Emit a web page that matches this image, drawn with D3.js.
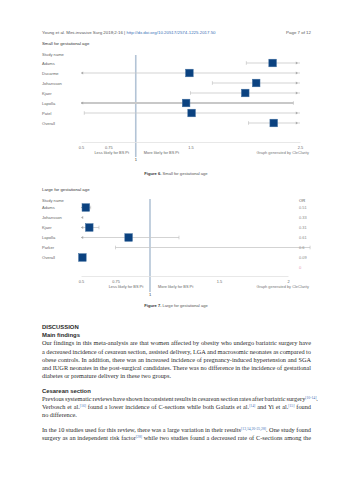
<!DOCTYPE html>
<html>
<head>
<meta charset="utf-8">
<script src="https://cdn.jsdelivr.net/npm/d3@7"></script>
<style>
  body { margin: 0; background: #fff; }
  text { font-family: "Liberation Sans", Arial, sans-serif; }
  .body { font-family: "Liberation Serif", "Times New Roman", serif; font-size: 6.3px; fill: #2a2a2a; }
  .sup { fill: #3a6fb5; }
</style>
</head>
<body>
<div id="container"></div>
<script>
/* CONSTANTS AND GLOBALS */
const width = 353;
const height = 480;

/* DATA */
// figure 6 - small for gestational age
const sgaStudies = ["Adams", "Ducarme", "Johansson", "Kjaer", "Lapolla", "Patel", "Overall"];
const sgaOR = [2.25, 1.49, 2.10, 2.0, 1.46, 1.51, 2.26];
const sgaLower = [2.01, 0.3, 1.70, 1.50, 0.3, 0.53, 2.03];
const sgaUpper = [3.5, 3.5, 3.5, 3.5, 2.44, 3.5, 3.5];
const sgaTicks = [0.5, 0.75, 1.5, 2.5];

// figure 7 - large for gestational age
const lgaStudies = ["Adams", "Johansson", "Kjaer", "Lapolla", "Parker", "Overall"];
const lgaOR = [0.535, 0.33, 0.56, 0.845, null, 0.51];
const lgaLower = [0.3, 0.2, 0.3, 0.3, 0.75, 0.49];
const lgaUpper = [0.57, 0.45, 0.63, 1.21, 2.16, 0.53];
const lgaLabels = ["0.51", "0.33", "0.31", "0.61", "0.6", "0.09"];
const lgaTicks = [0.5, 0.75, 1.5, 2];

const svg = d3.select("#container")
  .append("svg")
  .attr("width", width)
  .attr("height", height);

svg.append("rect").attr("width", width).attr("height", height).attr("fill", "#fff");

/* PAGE HEADER */
const head = svg.append("text").attr("x", 42).attr("y", 33.5)
  .attr("font-size", 4.4).attr("fill", "#555");
head.append("tspan").text("Young et al. Mini-invasive Surg 2018;2:16  |  ");
head.append("tspan").attr("fill", "#3a6fb5").text("http://dx.doi.org/10.20517/2574-1225.2017.50");
svg.append("text").attr("x", 311).attr("y", 33.5).attr("text-anchor", "end")
  .attr("font-size", 4.4).attr("fill", "#555").text("Page 7 of 12");

/* FOREST PLOT */
function forest(cfg) {
  const g = svg.append("g");
  const x = d3.scaleLinear().domain(cfg.domain).range(cfg.range);
  const y = d3.scalePoint().domain(cfg.studies).range(cfg.rows);
  const lo = cfg.domain[0], hi = cfg.domain[1];

  g.append("text").attr("x", 42).attr("y", cfg.titleY)
    .attr("font-size", 4.3).attr("fill", "#333").text(cfg.title);
  g.append("text").attr("x", 42).attr("y", cfg.titleY + 10.5)
    .attr("font-size", 4.1).attr("fill", "#666").text("Study name");

  // reference line at 1
  g.append("line")
    .attr("x1", x(1)).attr("x2", x(1))
    .attr("y1", cfg.refTop).attr("y2", cfg.refBottom)
    .attr("stroke", "#b3c4d6").attr("stroke-width", 1.6);
  g.append("text").attr("x", x(1)).attr("y", cfg.refBottom + 4)
    .attr("text-anchor", "middle").attr("font-size", 4).attr("fill", "#333").text("1");

  // axis
  const axis = g.append("g")
    .attr("transform", "translate(0," + cfg.axisY + ")")
    .call(d3.axisBottom(x).tickValues(cfg.ticks).tickSize(0).tickPadding(4)
      .tickFormat(d3.format("")));
  axis.select(".domain").attr("stroke", "#e2e2e2").attr("stroke-width", 0.8);
  axis.selectAll("text").attr("font-size", 3.9).attr("fill", "#666")
    .attr("font-family", "Liberation Sans, Arial, sans-serif");

  g.append("text").attr("x", x(1) - 24).attr("y", cfg.axisY + 12)
    .attr("text-anchor", "middle").attr("font-size", 3.9).attr("fill", "#666").text("Less likely for BS Pt");
  g.append("text").attr("x", x(1) + 8).attr("y", cfg.axisY + 12)
    .attr("font-size", 3.9).attr("fill", "#666").text("More likely for BS Pt");
  g.append("text").attr("x", 309).attr("y", cfg.axisY + 12)
    .attr("text-anchor", "end").attr("font-size", 3.9).attr("fill", "#777").text("Graph generated by CleClarity");

  // study labels
  g.selectAll(".lab")
    .data(cfg.studies)
    .join("text")
    .attr("x", 42)
    .attr("y", d => y(d) + 1.5)
    .attr("font-size", 4.1)
    .attr("fill", "#666")
    .text(d => d);

  const rows = cfg.studies.map((s, i) => ({
    s: s, or: cfg.or[i], l: cfg.lower[i], u: cfg.upper[i], i: i
  }));

  // confidence intervals
  rows.forEach(d => {
    const cy = y(d.s);
    const a = Math.max(d.l, lo);
    const b = cfg.clipRight ? Math.min(d.u, hi) : d.u;
    if (b > a) {
      g.append("line")
        .attr("x1", x(a)).attr("x2", x(b))
        .attr("y1", cy).attr("y2", cy)
        .attr("stroke", "#c8c8c8")
        .attr("stroke-width", d.s === cfg.thick ? 1.8 : 0.8);
    }
    if (d.l < lo) {
      const ax = x(lo);
      g.append("path").attr("d", `M${ax},${cy} l2.2,-1.5 v3 z`).attr("fill", "#aaa");
    } else {
      g.append("line").attr("x1", x(d.l)).attr("x2", x(d.l))
        .attr("y1", cy - 1.8).attr("y2", cy + 1.8).attr("stroke", "#bbb").attr("stroke-width", 0.6);
    }
    if (cfg.clipRight && d.u > hi) {
      const ax = x(hi) - 2;
      g.append("path").attr("d", `M${ax},${cy} l-2.2,-1.5 v3 z`).attr("fill", "#aaa");
    } else if (d.u > lo) {
      g.append("line").attr("x1", x(d.u)).attr("x2", x(d.u))
        .attr("y1", cy - 1.8).attr("y2", cy + 1.8).attr("stroke", "#bbb").attr("stroke-width", 0.6);
    }
  });

  // squares
  const sq = 7.6;
  g.selectAll(".sq")
    .data(rows.filter(d => d.or !== null && d.or >= lo && d.or <= hi))
    .join("rect")
    .attr("x", d => x(d.or) - sq / 2)
    .attr("y", d => y(d.s) - sq / 2)
    .attr("width", sq)
    .attr("height", sq)
    .attr("fill", "#0b4280")
    .attr("stroke", "#3f6d9e")
    .attr("stroke-width", 0.5);

  // caption
  const cap = g.append("text").attr("x", 176).attr("y", cfg.captionY)
    .attr("text-anchor", "middle").attr("font-size", 4.1).attr("fill", "#555");
  cap.append("tspan").attr("font-weight", "bold").attr("fill", "#333").text(cfg.figure + " ");
  cap.append("tspan").text(cfg.title);

  return { g: g, x: x, y: y };
}

forest({
  title: "Small for gestational age", figure: "Figure 6.", titleY: 45,
  studies: sgaStudies, or: sgaOR, lower: sgaLower, upper: sgaUpper,
  domain: [0.5, 2.5], range: [81, 300], rows: [63, 123], ticks: sgaTicks,
  refTop: 55, refBottom: 157, axisY: 142, captionY: 175, clipRight: true, thick: "Lapolla"
});

const p2 = forest({
  title: "Large for gestational age", figure: "Figure 7.", titleY: 191,
  studies: lgaStudies, or: lgaOR, lower: lgaLower, upper: lgaUpper,
  domain: [0.5, 2], range: [81, 288], rows: [207.5, 257.5], ticks: lgaTicks,
  refTop: 199, refBottom: 292, axisY: 276, captionY: 307, clipRight: false, thick: null
});

// OR column of figure 7
p2.g.append("text").attr("x", 299).attr("y", 202)
  .attr("font-size", 4.1).attr("fill", "#555").text("OR");
p2.g.selectAll(".or")
  .data(lgaStudies)
  .join("text")
  .attr("x", 299)
  .attr("y", d => p2.y(d) + 1.5)
  .attr("font-size", 3.9)
  .attr("fill", "#888")
  .text((d, i) => lgaLabels[i]);
p2.g.append("text").attr("x", 299).attr("y", 269)
  .attr("font-size", 4.1).attr("fill", "#e59ab8").text("0");

/* BODY TEXT */
function heading(txt, yy) {
  svg.append("text").attr("x", 42).attr("y", yy)
    .attr("font-size", 5.9).attr("font-weight", "bold").attr("fill", "#2a2a2a").text(txt);
}

// justify by spreading the spaces until the line is 269px wide
function line(parts, yy, justify) {
  const t = svg.append("text").attr("class", "body").attr("x", 42).attr("y", yy);
  let shift = 0;
  parts.forEach(p => {
    if (typeof p === "string") {
      t.append("tspan").attr("dy", shift ? -shift : null).text(p);
      shift = 0;
    } else {
      t.append("tspan").attr("class", "sup").attr("font-size", 3.7).attr("dy", -2.2).text(p.sup);
      shift = -2.2;
    }
  });
  if (justify) {
    const len = t.node().getComputedTextLength();
    const spaces = parts.filter(p => typeof p === "string").join("").split(" ").length - 1;
    if (spaces > 0) t.attr("word-spacing", Math.max(-0.6, (269 - len) / spaces));
  }
}

heading("DISCUSSION", 329);
heading("Main findings", 337.3);
line(["Our findings in this meta-analysis are that women affected by obesity who undergo bariatric surgery have"], 345.3, true);
line(["a decreased incidence of cesarean section, assisted delivery, LGA and macrosomic neonates as compared to"], 353.5, true);
line(["obese controls. In addition, there was an increased incidence of pregnancy-induced hypertension and SGA"], 361.7, true);
line(["and IUGR neonates in the post-surgical candidates. There was no difference in the incidence of gestational"], 369.9, true);
line(["diabetes or premature delivery in these two groups."], 378.1, false);

heading("Cesarean section", 392.5);
line(["Previous systematic reviews have shown inconsistent results in cesarean section rates after bariatric surgery", { sup: "[10-14]" }, "."], 400.8, true);
line(["Verbosch et al.", { sup: "[16]" }, " found a lower incidence of C-sections while both Galazis et al.", { sup: "[14]" }, " and Yi et al.", { sup: "[15]" }, " found"], 409, true);
line(["no difference."], 417.2, false);
line(["In the 10 studies used for this review, there was a large variation in their results", { sup: "[13,14,20-25,28]" }, ". One study found"], 431.8, true);
line(["surgery as an independent risk factor", { sup: "[28]" }, " while two studies found a decreased rate of C-sections among the"], 440, true);
</script>
</body>
</html>
